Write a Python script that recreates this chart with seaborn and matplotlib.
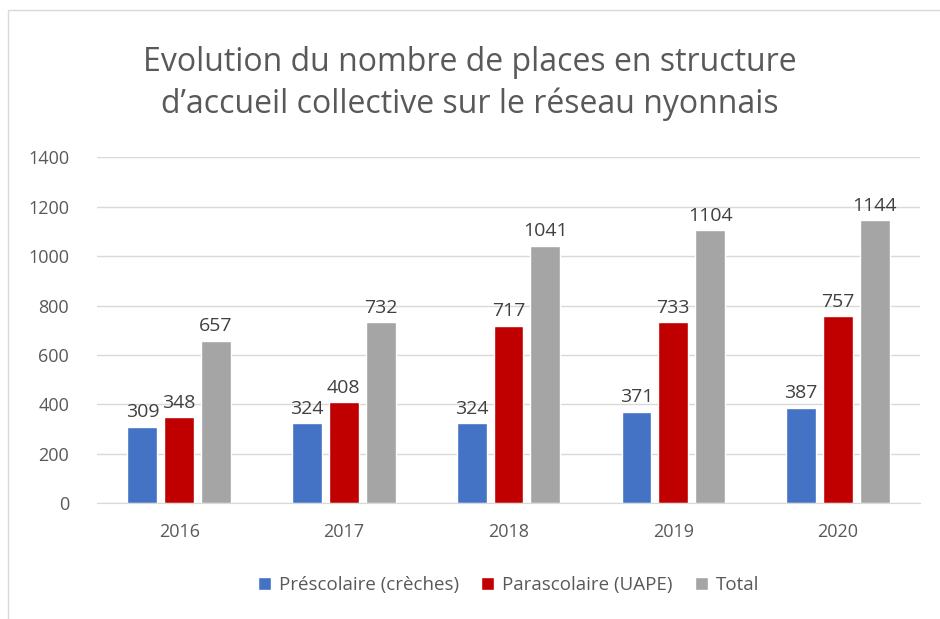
import pandas as pd
import matplotlib
matplotlib.use("Agg")
import matplotlib.pyplot as plt
import seaborn as sns
from matplotlib.patches import Rectangle

years = ["2016", "2017", "2018", "2019", "2020"]
prescolaire = [309, 324, 324, 371, 387]
parascolaire = [348, 408, 717, 733, 757]
total = [657, 732, 1041, 1104, 1144]

series_names = ["Préscolaire (crèches)", "Parascolaire (UAPE)", "Total"]
colors = ["#4472C4", "#C00000", "#A5A5A5"]

df = pd.DataFrame({
    "Année": years * 3,
    "Série": [series_names[0]] * 5 + [series_names[1]] * 5 + [series_names[2]] * 5,
    "Places": prescolaire + parascolaire + total,
})

sns.set_style("white")
plt.rcParams["font.family"] = ["Open Sans", "DejaVu Sans"]

fig = plt.figure(figsize=(9.4, 6.19), dpi=100)
ax = fig.add_axes([0.103, 0.187, 0.876, 0.559])

sns.barplot(
    data=df, x="Année", y="Places", hue="Série",
    palette=colors, width=0.67, gap=0.19, ax=ax, legend=True,
    saturation=1,
)

for container in ax.containers:
    ax.bar_label(container, fontsize=14, color="#404040", padding=4)

ax.set_ylim(0, 1400)
ax.set_yticks(range(0, 1401, 200))
ax.yaxis.grid(True, color="#D9D9D9", linewidth=1)
ax.set_axisbelow(True)
for side in ["top", "right", "left"]:
    ax.spines[side].set_visible(False)
ax.spines["bottom"].set_color("#D9D9D9")
ax.tick_params(axis="both", length=0, labelsize=13, labelcolor="#595959", pad=14)
ax.tick_params(axis="y", pad=20)
ax.set_xlabel("")
ax.set_ylabel("")

fig.suptitle(
    "Evolution du nombre de places en structure\nd\u2019accueil collective sur le réseau nyonnais",
    fontsize=23, color="#595959", y=0.925, linespacing=1.32,
)

ax.legend(
    loc="lower center", bbox_to_anchor=(0.5, -0.31), ncol=3, frameon=False,
    fontsize=13.5, labelcolor="#595959", handlelength=0.7, handleheight=0.7,
    columnspacing=1.2, handletextpad=0.4,
)

fig.patches.append(Rectangle((0.009, -0.01), 1.5, 0.994, transform=fig.transFigure,
                             fill=False, edgecolor="#D9D9D9", linewidth=1))

fig.savefig("out.png", dpi=100)
